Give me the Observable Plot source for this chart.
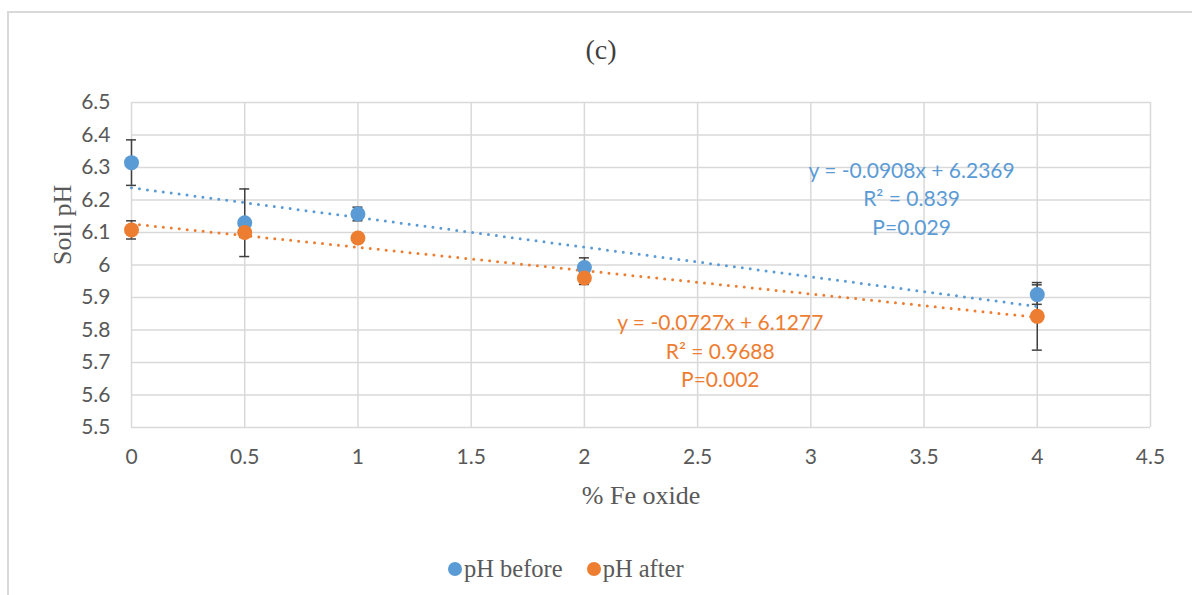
<!DOCTYPE html>
<html>
<head>
<meta charset="utf-8">
<script src="https://cdn.jsdelivr.net/npm/d3@7"></script>
<script src="https://cdn.jsdelivr.net/npm/@observablehq/plot@0.6"></script>
<style>
  html, body { margin: 0; padding: 0; background: #fff; }
  #wrap { position: relative; width: 1192px; height: 595px; overflow: hidden; }
  #frame { position: absolute; left: 7px; top: 11px; width: 1200px; height: 600px; border: 2px solid #d9d9d9; box-sizing: border-box; }
  #title { position: absolute; left: 0; width: 1202px; top: 34px; text-align: center; font-family: "Liberation Serif", serif; font-size: 28px; color: #404040; }
  #legend { position: absolute; top: 555px; left: 448px; display: flex; gap: 24px; font-family: "Liberation Serif", serif; font-size: 24.5px; color: #595959; }
  #legend .item { display: flex; align-items: center; }
  #legend .sw { width: 14px; height: 14px; border-radius: 50%; display: inline-block; margin-right: 2px; }
  #chart { position: absolute; left: 0; top: 0; }
</style>
</head>
<body>
<div id="wrap">
  <div id="frame"></div>
  <div id="chart"></div>
  <div id="title">(c)</div>
  <div id="legend"></div>
</div>
<script>
// ---- Data ----
const feOxide = [0, 0.5, 1, 2, 4];
const phBefore = [6.315, 6.13, 6.157, 5.992, 5.909];
const phBeforeErr = [0.07, 0.104, 0.021, 0.03, 0.03];
const phAfter = [6.108, 6.10, 6.083, 5.96, 5.842];
const phAfterErr = [0.028, 0.015, 0.01, 0.02, 0.104];
const seriesNames = ["pH before", "pH after"];
const seriesColors = ["#5B9BD5", "#ED7D31"];
const yTicks = [5.5, 5.6, 5.7, 5.8, 5.9, 6.0, 6.1, 6.2, 6.3, 6.4, 6.5];
const xTicks = [0, 0.5, 1, 1.5, 2, 2.5, 3, 3.5, 4, 4.5];
const eqBefore = ["y = -0.0908x + 6.2369", "R² = 0.839", "P=0.029"];
const eqAfter = ["y = -0.0727x + 6.1277", "R² = 0.9688", "P=0.002"];

// ---- Build table ----
const rows = [];
feOxide.forEach((x, i) => {
  rows.push({series: seriesNames[0], x, y: phBefore[i], e: phBeforeErr[i]});
});
feOxide.forEach((x, i) => {
  rows.push({series: seriesNames[1], x, y: phAfter[i], e: phAfterErr[i]});
});
const before = rows.filter(d => d.series === seriesNames[0]);
const after = rows.filter(d => d.series === seriesNames[1]);

const fmt = d => String(+d.toFixed(1));
const capW = 0.022;
const errColor = "#404040";
const tickFont = "Lato, 'Open Sans', sans-serif";
const serif = "'Liberation Serif', serif";

function errMarks(data) {
  return [
    Plot.ruleX(data, {x: "x", y1: d => d.y - d.e, y2: d => d.y + d.e, stroke: errColor, strokeWidth: 1.5}),
    Plot.ruleY(data, {y: d => d.y + d.e, x1: d => d.x - capW, x2: d => d.x + capW, stroke: errColor, strokeWidth: 1.5}),
    Plot.ruleY(data, {y: d => d.y - d.e, x1: d => d.x - capW, x2: d => d.x + capW, stroke: errColor, strokeWidth: 1.5})
  ];
}

const chart = Plot.plot({
  width: 1192,
  height: 595,
  marginTop: 102,
  marginBottom: 168,
  marginLeft: 131,
  marginRight: 42,
  style: {background: "transparent", overflow: "visible"},
  x: {domain: [0, 4.5], ticks: xTicks, tickFormat: fmt},
  y: {domain: [5.5, 6.5], ticks: yTicks, tickFormat: fmt},
  marks: [
    Plot.gridY(yTicks, {stroke: "#d9d9d9", strokeOpacity: 1, strokeWidth: 1.5}),
    Plot.gridX(xTicks, {stroke: "#d9d9d9", strokeOpacity: 1, strokeWidth: 1.5}),
    Plot.axisY(yTicks, {tickSize: 0, tickPadding: 21, tickFormat: fmt, label: null, fontSize: 21, fontFamily: tickFont, fill: "#595959"}),
    Plot.axisX(xTicks, {tickSize: 0, tickPadding: 22, tickFormat: fmt, label: null, fontSize: 21, fontFamily: tickFont, fill: "#595959"}),
    ...errMarks(before),
    ...errMarks(after),
    Plot.linearRegressionY(before, {x: "x", y: "y", ci: 0, stroke: seriesColors[0], strokeWidth: 3, strokeDasharray: "0,8", strokeLinecap: "round"}),
    Plot.linearRegressionY(after, {x: "x", y: "y", ci: 0, stroke: seriesColors[1], strokeWidth: 3, strokeDasharray: "0,8", strokeLinecap: "round"}),
    Plot.dot(before, {x: "x", y: "y", r: 7.5, fill: seriesColors[0]}),
    Plot.dot(after, {x: "x", y: "y", r: 7.5, fill: seriesColors[1]}),
    Plot.text([eqBefore.join("\n")], {x: 3.445, y: 6.295, text: d => d, fill: seriesColors[0], fontSize: 21, fontFamily: tickFont, lineHeight: 1.35, lineAnchor: "middle", textAnchor: "middle", dy: 28}),
    Plot.text([eqAfter.join("\n")], {x: 2.6, y: 5.826, text: d => d, fill: seriesColors[1], fontSize: 21, fontFamily: tickFont, lineHeight: 1.35, lineAnchor: "middle", textAnchor: "middle", dy: 28}),
    Plot.text(["Soil pH"], {frameAnchor: "left", dx: -69, rotate: -90, text: d => d, fontSize: 26, fontFamily: serif, fill: "#595959"}),
    Plot.text(["% Fe oxide"], {frameAnchor: "bottom", dy: 76, text: d => d, fontSize: 26, fontFamily: serif, fill: "#595959"})
  ]
});
document.getElementById("chart").appendChild(chart);

const legend = document.getElementById("legend");
seriesNames.forEach((n, i) => {
  const item = document.createElement("div");
  item.className = "item";
  const sw = document.createElement("span");
  sw.className = "sw";
  sw.style.background = seriesColors[i];
  item.appendChild(sw);
  item.appendChild(document.createTextNode(n));
  legend.appendChild(item);
});
</script>
</body>
</html>
